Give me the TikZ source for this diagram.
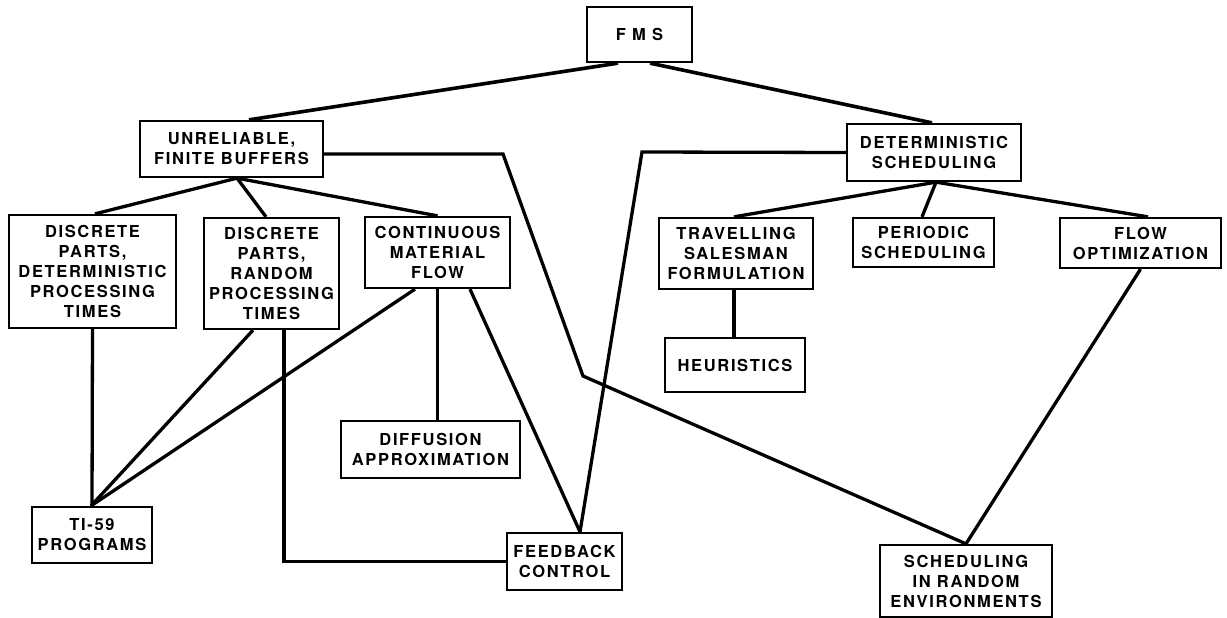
\documentclass[tikz,border=0pt]{standalone}
\usepackage{fontspec}
\setmainfont{TeX Gyre Heros}[LetterSpace=10,UprightFont=*-Bold]

\begin{document}
\begin{tikzpicture}[x=1pt,y=-1pt,
  box/.style={draw,line width=2.3pt,align=center,inner sep=2pt,
    font=\fontsize{16.5}{20}\selectfont},
  link/.style={line width=3.3pt,line join=miter}]
\useasboundingbox (0,0) rectangle (1227,618);
% boxes
\node[box,minimum width=105pt,minimum height=55pt] (fms) at (639.5,34.5) {F M S};
\node[box,minimum width=183pt,minimum height=56pt] (unrel) at (231.5,149) {UNRELIABLE,\\FINITE BUFFERS};
\node[box,minimum width=174pt,minimum height=57pt] (det) at (934,152.5) {DETERMINISTIC\\SCHEDULING};
\node[box,minimum width=167pt,minimum height=113pt] (dpd) at (92.5,271.5) {DISCRETE\\PARTS,\\DETERMINISTIC\\PROCESSING\\TIMES};
\node[box,minimum width=135pt,minimum height=111pt] (dpr) at (271.5,273.5) {DISCRETE\\PARTS,\\RANDOM\\PROCESSING\\TIMES};
\node[box,minimum width=145pt,minimum height=71pt] (cmf) at (437.5,252.5) {CONTINUOUS\\MATERIAL\\FLOW};
\node[box,minimum width=154pt,minimum height=71pt] (tsp) at (736,253.5) {TRAVELLING\\SALESMAN\\FORMULATION};
\node[box,minimum width=141pt,minimum height=49pt] (per) at (923.5,242.5) {PERIODIC\\SCHEDULING};
\node[box,minimum width=161pt,minimum height=50pt] (flow) at (1140.5,243) {FLOW\\OPTIMIZATION};
\node[box,minimum width=140pt,minimum height=54pt] (heur) at (735,365) {HEURISTICS};
\node[box,minimum width=179pt,minimum height=57pt] (diff) at (430.5,449.5) {DIFFUSION\\APPROXIMATION};
\node[box,minimum width=120pt,minimum height=56pt] (ti) at (92,535) {TI-59\\PROGRAMS};
\node[box,minimum width=115pt,minimum height=57pt] (fb) at (564.5,561.5) {FEEDBACK\\CONTROL};
\node[box,minimum width=172pt,minimum height=72pt] (sre) at (966,581) {SCHEDULING\\IN RANDOM\\ENVIRONMENTS};
% bends
\coordinate (k1) at (503,154);
\coordinate (k2) at (583,376);
\coordinate (k3) at (642,152);
% tree lines
\draw[link,line width=3.6pt] ([xshift=-21.5pt]fms.south) -- ([xshift=17.5pt]unrel.north);
\draw[link,line width=3.6pt] ([xshift=10.5pt]fms.south) -- ([xshift=-2pt]det.north);
\draw[link] ([xshift=5.5pt]unrel.south) -- ([xshift=2.5pt]dpd.north);
\draw[link] ([xshift=5.5pt]unrel.south) -- ([xshift=-5.5pt]dpr.north);
\draw[link] ([xshift=5.5pt]unrel.south) -- (cmf.north);
\draw[link] ([xshift=2pt]det.south) -- ([xshift=-2pt]tsp.north);
\draw[link] ([xshift=2pt]det.south) -- ([xshift=-1.5pt]per.north);
\draw[link] ([xshift=2pt]det.south) -- ([xshift=7.5pt]flow.north);
\draw[link] ([xshift=-2pt]tsp.south) -- ([xshift=-1pt]heur.north);
% cross lines
\draw[link] ([yshift=-5pt]unrel.east) -- (k1) -- (k2) -- (sre.north);
\draw[link] (det.west) -- (k3) -- ([xshift=15.5pt]fb.north);
\draw[link] (flow.south) -- (sre.north);
\draw[link] (dpd.south) -- (ti.north);
\draw[link] ([xshift=-18.5pt]dpr.south) -- ([xshift=-1pt]ti.north);
\draw[link] ([xshift=12.5pt]dpr.south) |- (fb.west);
\draw[link] ([xshift=-22.5pt]cmf.south) -- ([xshift=-1pt]ti.north);
\draw[link] (cmf.south) -- (cmf.south |- diff.north);
\draw[link] ([xshift=32.5pt]cmf.south) -- ([xshift=15.5pt]fb.north);
\end{tikzpicture}
\end{document}
